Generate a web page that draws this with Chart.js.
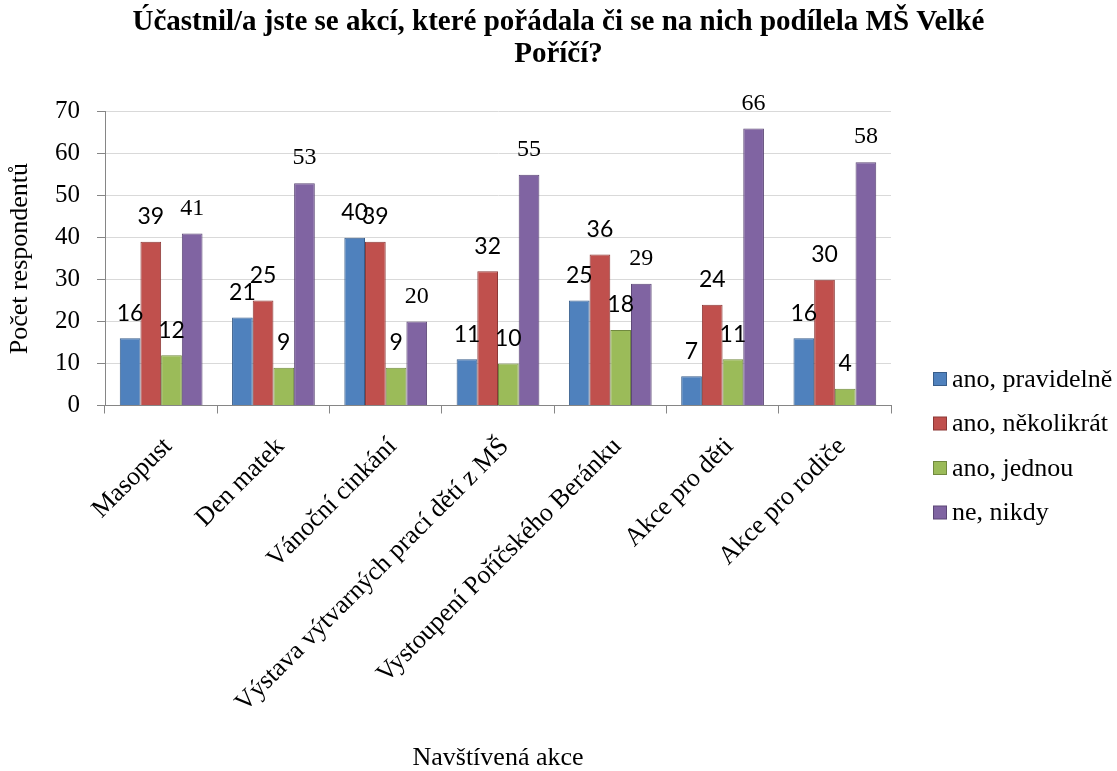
<!DOCTYPE html>
<html>
<head>
<meta charset="utf-8">
<script src="https://cdn.jsdelivr.net/npm/chart.js@4.4.1/dist/chart.umd.min.js"></script>
<style>
html,body{margin:0;padding:0;background:#fff;}
#wrap{width:1117px;height:771px;position:relative;}
</style>
</head>
<body>
<div id="wrap"><canvas id="c" width="1117" height="771"></canvas></div>
<script>
const titleLines = ["Účastnil/a jste se akcí, které pořádala či se na nich podílela MŠ Velké", "Poříčí?"];
const categories = ["Masopust", "Den matek", "Vánoční cinkání", "Výstava výtvarných prací dětí z MŠ", "Vystoupení Poříčského Beránku", "Akce pro děti", "Akce pro rodiče"];
const seriesNames = ["ano, pravidelně", "ano, několikrát", "ano, jednou", "ne, nikdy"];
const anoPravidelne = [16, 21, 40, 11, 25, 7, 16];
const anoNekolikrat = [39, 25, 39, 32, 36, 24, 30];
const anoJednou = [12, 9, 9, 10, 18, 11, 4];
const neNikdy = [41, 53, 20, 55, 29, 66, 58];
const yTickValues = [0, 10, 20, 30, 40, 50, 60, 70];
const yAxisTitle = "Počet respondentů";
const xAxisTitle = "Navštívená akce";

const fills = ["#4F81BD", "#C0504D", "#9BBB59", "#8064A2"];
const borders = ["#385D8A", "#8C3836", "#71893F", "#5C4776"];
const SERIF = "'Liberation Serif', 'Times New Roman', serif";
const SANS = "Lato, 'Liberation Sans', sans-serif";

const seriesValues = [anoPravidelne, anoNekolikrat, anoJednou, neNikdy];

const valueLabels = {
  id: 'valueLabels',
  afterDatasetsDraw(chart) {
    const ctx = chart.ctx;
    ctx.save();
    ctx.fillStyle = '#000';
    ctx.textAlign = 'center';
    ctx.textBaseline = 'middle';
    chart.data.datasets.forEach((ds, di) => {
      const meta = chart.getDatasetMeta(di);
      ctx.font = di === 3 ? "24px " + SERIF : "23px " + SANS;
      meta.data.forEach((bar, i) => {
        ctx.fillText(String(ds.data[i]), bar.x, bar.y - 25);
      });
    });
    ctx.restore();
  }
};

const sideLegend = {
  id: 'sideLegend',
  afterDraw(chart) {
    const ctx = chart.ctx;
    ctx.save();
    ctx.font = "26px " + SERIF;
    ctx.textBaseline = 'middle';
    ctx.textAlign = 'left';
    chart.data.datasets.forEach((ds, i) => {
      const cy = 379 + i * 44.5;
      ctx.fillStyle = ds.backgroundColor;
      ctx.fillRect(933.5, cy - 6.5, 13, 13);
      ctx.strokeStyle = ds.borderColor;
      ctx.lineWidth = 1;
      ctx.strokeRect(933.5, cy - 6.5, 13, 13);
      ctx.fillStyle = '#000';
      ctx.fillText(ds.label, 952, cy + 1);
    });
    ctx.restore();
  }
};

new Chart(document.getElementById('c'), {
  type: 'bar',
  data: {
    labels: categories,
    datasets: seriesNames.map((name, i) => ({
      label: name,
      data: seriesValues[i],
      backgroundColor: fills[i],
      borderColor: borders[i],
      borderWidth: 1,
      categoryPercentage: 0.737,
      barPercentage: 1.0
    }))
  },
  options: {
    responsive: false,
    animation: false,
    devicePixelRatio: 1,
    layout: { padding: { left: 0, right: 0, top: 0, bottom: 0 } },
    plugins: {
      legend: { display: false },
      tooltip: { enabled: false },
      title: {
        display: true,
        text: titleLines,
        color: '#000',
        font: { family: SERIF, size: 29, weight: 'bold', lineHeight: 1.1 },
        padding: { top: 7, bottom: 41 }
      }
    },
    scales: {
      x: {
        afterFit(scale) { scale.height = 365.5; },
        grid: { display: true, drawOnChartArea: false, drawTicks: true, tickLength: 8, tickColor: '#868686', offset: true },
        border: { display: true, color: '#868686', width: 1 },
        ticks: { color: '#000', font: { family: SERIF, size: 26 }, maxRotation: 45, minRotation: 45, padding: 18, labelOffset: 7, autoSkip: false },
        title: { display: true, text: xAxisTitle, color: '#000', font: { family: SERIF, size: 26, lineHeight: 1.0 }, padding: { top: 0, bottom: 0 } }
      },
      y: {
        min: 0, max: 70,
        afterFit(scale) { scale.width = 105; },
        afterBuildTicks(scale) { scale.ticks = yTickValues.map(v => ({ value: v })); },
        grid: { color: '#d9d9d9', drawTicks: true, tickLength: 8, tickColor: '#868686' },
        border: { display: true, color: '#868686', width: 1 },
        ticks: { color: '#000', font: { family: SERIF, size: 25 }, padding: 17 },
        title: { display: true, text: yAxisTitle, color: '#000', font: { family: SERIF, size: 26, lineHeight: 1.2 }, padding: { top: 5, bottom: 0 } }
      },
      legendSpace: {
        position: 'right',
        display: true,
        afterFit(scale) { scale.width = 226; },
        grid: { display: false, drawTicks: false },
        border: { display: false },
        ticks: { display: false },
        title: { display: false }
      }
    }
  },
  plugins: [valueLabels, sideLegend]
});
</script>
</body>
</html>
